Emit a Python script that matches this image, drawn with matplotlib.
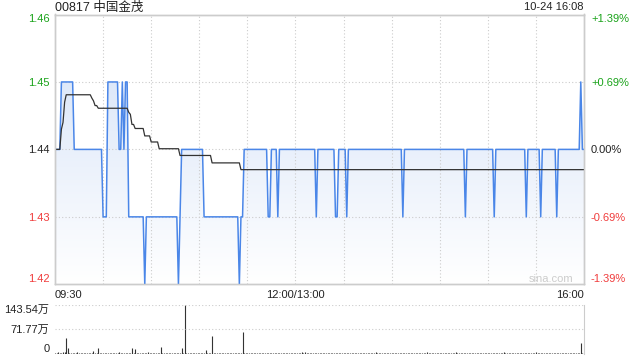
import numpy as np
import matplotlib.pyplot as plt
from matplotlib.colors import LinearSegmentedColormap

plt.rcParams['font.family'] = ['Liberation Sans', 'Noto Sans CJK SC', 'DejaVu Sans']

# price as runs of (value, minutes) from 09:30, lunch removed
price_vals = [1.44, 1.45, 1.44, 1.43, 1.45, 1.44, 1.45, 1.44, 1.45, 1.43, 1.42, 1.43, 1.42, 1.43,
              1.44, 1.43, 1.42, 1.43,
              1.44, 1.43, 1.44, 1.43, 1.44, 1.43, 1.44, 1.43, 1.44, 1.43,
              1.44, 1.43, 1.44, 1.43, 1.44, 1.43, 1.44, 1.43, 1.44, 1.43,
              1.44, 1.43, 1.44, 1.45, 1.44]
price_runs = [4, 8, 18, 3, 7, 2, 1, 1, 2, 10, 1, 20, 1, 1,
              14, 22, 1, 2,
              15, 2, 4, 1, 23, 1, 11, 2, 5, 1,
              34, 1, 38, 1, 17, 1, 19, 1, 8, 1,
              9, 1, 14, 1, 2]

avg_vals = [1.4400, 1.4430, 1.4440, 1.4470, 1.4481, 1.4476, 1.4472, 1.4465, 1.4461, 1.4455,
            1.4452, 1.4437, 1.4431, 1.4420, 1.4411, 1.4401, 1.4391, 1.4380, 1.4370]
avg_runs = [4, 1, 1, 1, 16, 1, 1, 2, 19, 1, 1, 2, 6, 4, 5, 13, 20, 18, 215]

# volume (万), notable minutes; the rest are tiny
vol_minutes = [2, 5, 6, 7, 8, 14, 24, 27, 40, 48, 50, 58, 66, 79, 81, 94, 98, 117,
               154, 156, 200, 232, 250, 280, 300, 328]
vol_values = [4, 5, 6, 47, 17, 5, 8, 17, 5, 17, 14, 5, 20, 17, 143.54, 11, 53, 65,
              5, 6, 4, 4, 5, 4, 5, 30]
vol_base = 2.8

prev_close = 1.44
y_ticks = [1.46, 1.45, 1.44, 1.43, 1.42]
pct_labels = ['+1.39%', '+0.69%', '0.00%', '-0.69%', '-1.39%']
x_ticks = [0, 150, 330]
x_labels = ['09:30', '12:00/13:00', '16:00']
vol_ticks = [143.54, 71.77, 0]
vol_labels = ['143.54万', '71.77万', '0']

price = np.repeat(price_vals, price_runs)
avg = np.repeat(avg_vals, avg_runs)
t = np.arange(len(price))
vol = np.full(len(price), vol_base)
vol[vol_minutes] = vol_values

green, red, dark = '#1aa31a', '#f03c3c', '#222222'
grid_kw = dict(color='#cccccc', lw=0.8, linestyle=(0, (1, 2)))

fig = plt.figure(figsize=(6.4, 3.6), dpi=100)
ax = fig.add_axes([55 / 640, 1 - 284.3 / 360, 529 / 640, 269.8 / 360])
axv = fig.add_axes([55 / 640, 1 - 353.6 / 360, 529 / 640, 48.6 / 360])

ax.set_xlim(0, 330)
ax.set_ylim(1.42, 1.46)

# gradient fill under price line
cmap = LinearSegmentedColormap.from_list('fill', ['#ffffff', '#d3e1f7'])
grad = np.linspace(0, 1, 256).reshape(-1, 1)
im = ax.imshow(grad, cmap=cmap, aspect='auto', origin='lower',
               extent=[0, 330, 1.42, 1.46], zorder=1)
poly = ax.fill_between(t, price, 1.42, color='none', lw=0)
im.set_clip_path(poly.get_paths()[0], transform=ax.transData)

for v in [1.45, 1.44, 1.43]:
    ax.axhline(v, zorder=2, **grid_kw)
for m in range(30, 330, 30):
    ax.axvline(m, zorder=2, **grid_kw)

ax.plot(t, price, color='#4a86e8', lw=1.1, zorder=3)
ax.plot(t, avg, color='#333333', lw=0.9, zorder=4)

ax.set_yticks(y_ticks)
ax.set_yticklabels([f'{v:.2f}' for v in y_ticks], fontsize=8)
ax.tick_params(axis='both', length=0, pad=4)
ax.set_xticks(x_ticks)
ax.set_xticklabels(x_labels, fontsize=8, color=dark)
for lab, ha in zip(ax.get_xticklabels(), ['left', 'center', 'right']):
    lab.set_ha(ha)
cols = [green, green, dark, red, red]
for lab, c in zip(ax.get_yticklabels(), cols):
    lab.set_color(c)
ax.get_yticklabels()[0].set_va('top')
ax.get_yticklabels()[-1].set_va('bottom')

ax2 = ax.twinx()
ax2.set_ylim(ax.get_ylim())
ax2.set_yticks(y_ticks)
ax2.set_yticklabels(pct_labels, fontsize=8)
ax2.tick_params(length=0, pad=5)
for lab, c in zip(ax2.get_yticklabels(), cols):
    lab.set_color(c)
ax2.get_yticklabels()[0].set_va('top')
ax2.get_yticklabels()[-1].set_va('bottom')

for a in (ax, ax2):
    for s in a.spines.values():
        s.set_color('#cccccc')
        s.set_linewidth(1)

ax.text(0.979, 0.018, 'sina.com', transform=ax.transAxes, ha='right', va='center',
        fontsize=8, color='#cccccc', zorder=5)

fig.text(55 / 640, 1 - 7.5 / 360, '00817 中国金茂', fontsize=9, color=dark, va='center', ha='left')
fig.text(584 / 640, 1 - 7 / 360, '10-24 16:08', fontsize=8, color=dark, va='center', ha='right')

# volume panel
axv.set_xlim(0, 330)
axv.set_ylim(0, 143.54)
axv.vlines(t, 0, vol, color='#333333', lw=0.8)
axv.axhline(143.54, **grid_kw)
axv.axhline(71.77, **grid_kw)
axv.set_xticks([])
axv.set_yticks(vol_ticks)
axv.set_yticklabels(vol_labels, fontsize=8, color=dark)
axv.tick_params(length=0, pad=4)
axv.get_yticklabels()[0].set_va('top')
axv.get_yticklabels()[-1].set_va('bottom')
for k, s in axv.spines.items():
    s.set_color('#cccccc')
    s.set_visible(k == 'right')

fig.savefig('out.png', dpi=100)
